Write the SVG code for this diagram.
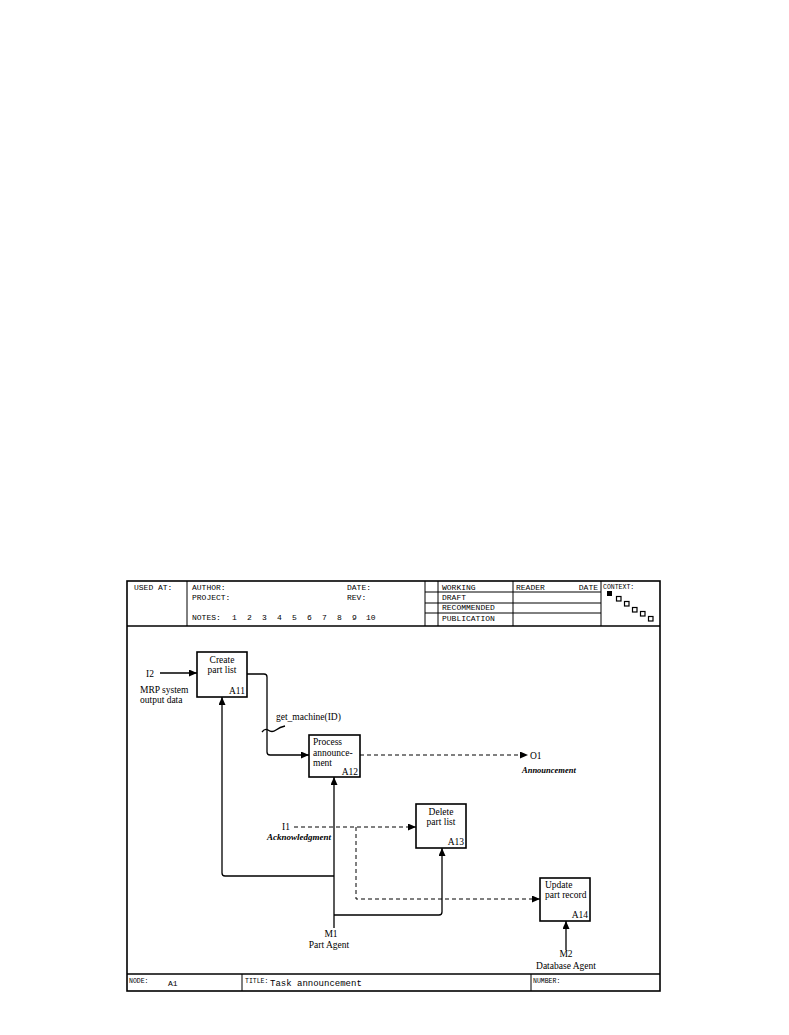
<svg xmlns="http://www.w3.org/2000/svg" width="789" height="1035" viewBox="0 0 789 1035">
<style>
.frame{fill:none;stroke:#000;stroke-width:1.6}
.thin{fill:none;stroke:#000;stroke-width:1}
.box{fill:#fff;stroke:#000;stroke-width:1.6}
.c{fill:none;stroke:#000;stroke-width:1.3}
.d{fill:none;stroke:#000;stroke-width:1;stroke-dasharray:4 3}
.m{font-family:"Liberation Mono",monospace;font-size:8px;fill:#000}
.s{font-family:"Liberation Mono",monospace;font-size:6.5px;fill:#000}
.t{font-family:"Liberation Serif",serif;font-size:9.5px;fill:#000}
.i{font-family:"Liberation Serif",serif;font-size:9px;font-style:italic;font-weight:bold;fill:#000}
.bi{font-family:"Liberation Serif",serif;font-size:8.5px;font-style:italic;font-weight:bold;fill:#000}
</style>
<defs>
<marker id="ah" markerUnits="userSpaceOnUse" markerWidth="9" markerHeight="8" refX="8" refY="3.5" orient="auto">
<path d="M0,0 L8,3.5 L0,7 z" fill="#000"/>
</marker>
</defs>
<rect width="789" height="1035" fill="#fff"/>
<g id="frame">
<rect class="frame" x="127" y="581" width="533" height="410"/>
<line class="frame" x1="127" y1="626" x2="660" y2="626"/>
<line class="frame" x1="127" y1="974" x2="660" y2="974"/>
<line class="thin" x1="187" y1="581" x2="187" y2="626"/>
<line class="thin" x1="425" y1="581" x2="425" y2="626"/>
<line class="thin" x1="438" y1="581" x2="438" y2="626"/>
<line class="thin" x1="513" y1="581" x2="513" y2="626"/>
<line class="thin" x1="601" y1="581" x2="601" y2="626"/>
<line class="thin" x1="425" y1="592" x2="601" y2="592"/>
<line class="thin" x1="425" y1="603" x2="601" y2="603"/>
<line class="thin" x1="425" y1="613" x2="601" y2="613"/>
<line class="thin" x1="242" y1="974" x2="242" y2="991"/>
<line class="thin" x1="531" y1="974" x2="531" y2="991"/>
<text class="m" x="134" y="590">USED AT:</text>
<text class="m" x="192" y="590">AUTHOR:</text>
<text class="m" x="347" y="590">DATE:</text>
<text class="m" x="192" y="600">PROJECT:</text>
<text class="m" x="347" y="600">REV:</text>
<text class="m" x="192" y="620">NOTES:</text>
<text class="m" x="232" y="620">1</text>
<text class="m" x="247" y="620">2</text>
<text class="m" x="262" y="620">3</text>
<text class="m" x="277" y="620">4</text>
<text class="m" x="292" y="620">5</text>
<text class="m" x="307" y="620">6</text>
<text class="m" x="322" y="620">7</text>
<text class="m" x="337" y="620">8</text>
<text class="m" x="352" y="620">9</text>
<text class="m" x="366" y="620">10</text>
<text class="m" x="442" y="590">WORKING</text>
<text class="m" x="442" y="600">DRAFT</text>
<text class="m" x="442" y="610">RECOMMENDED</text>
<text class="m" x="442" y="621">PUBLICATION</text>
<text class="m" x="516" y="590">READER</text>
<text class="m" x="598" y="590" text-anchor="end">DATE</text>
<text class="s" x="603" y="589">CONTEXT:</text>
<rect x="607" y="591" width="5" height="5" fill="#000"/>
<rect x="616.5" y="596.5" width="4.5" height="4.5" fill="#fff" stroke="#000" stroke-width="1.2"/>
<rect x="624.5" y="601.5" width="4.5" height="4.5" fill="#fff" stroke="#000" stroke-width="1.2"/>
<rect x="632.5" y="607.5" width="4.5" height="4.5" fill="#fff" stroke="#000" stroke-width="1.2"/>
<rect x="640.5" y="611.5" width="4.5" height="4.5" fill="#fff" stroke="#000" stroke-width="1.2"/>
<rect x="648.5" y="616.5" width="4.5" height="4.5" fill="#fff" stroke="#000" stroke-width="1.2"/>
<text class="s" x="129" y="983">NODE:</text>
<text class="m" x="168" y="986">A1</text>
<text class="s" x="245" y="983">TITLE:</text>
<text class="m" x="270" y="986" style="font-size:9px">Task announcement</text>
<text class="s" x="533" y="983">NUMBER:</text>
</g>
<g id="connectors">
<path class="c" d="M160,673 H197" marker-end="url(#ah)"/>
<path class="c" d="M247,674 H264 Q267,674 267,677 V752 Q267,755 270,755 H309" marker-end="url(#ah)"/>
<path class="c" d="M262,732 q3,-4 6,-2 q4,3 8,0 q4,-3 9,-4"/>
<path class="d" d="M360,755 H528" marker-end="url(#ah)"/>
<path class="c" d="M334,928 V777" marker-end="url(#ah)"/>
<path class="c" d="M334,876 H225 Q222,876 222,873 V697" marker-end="url(#ah)"/>
<path class="c" d="M334,915 H439 Q442,915 442,912 V848" marker-end="url(#ah)"/>
<path class="d" d="M294,827 H416" marker-end="url(#ah)"/>
<path class="d" d="M356,827 V899 H540" marker-end="url(#ah)"/>
<path class="c" d="M566,950 V921" marker-end="url(#ah)"/>
<text class="t" x="146" y="677">I2</text>
<text class="t" x="140" y="693">MRP system</text>
<text class="t" x="140" y="703">output data</text>
<text class="t" x="276" y="720">get_machine(ID)</text>
<text class="t" x="530" y="759">O1</text>
<text class="bi" x="522" y="773">Announcement</text>
<text class="t" x="282" y="830">I1</text>
<text class="i" x="267" y="840">Acknowledgment</text>
<text class="t" x="331" y="937" text-anchor="middle">M1</text>
<text class="t" x="329" y="948" text-anchor="middle">Part Agent</text>
<text class="t" x="566" y="957" text-anchor="middle">M2</text>
<text class="t" x="566" y="969" text-anchor="middle">Database Agent</text>
</g>
<g id="A11">
<rect class="box" x="197" y="652" width="50" height="45"/>
<text class="t" x="222" y="663" text-anchor="middle">Create</text>
<text class="t" x="222" y="673" text-anchor="middle">part list</text>
<text class="t" x="245" y="694" text-anchor="end">A11</text>
</g>
<g id="A12">
<rect class="box" x="309" y="735" width="51" height="42"/>
<text class="t" x="313" y="745">Process</text>
<text class="t" x="313" y="756">announce-</text>
<text class="t" x="313" y="766">ment</text>
<text class="t" x="358" y="775" text-anchor="end">A12</text>
</g>
<g id="A13">
<rect class="box" x="416" y="804" width="50" height="44"/>
<text class="t" x="441" y="815" text-anchor="middle">Delete</text>
<text class="t" x="441" y="825" text-anchor="middle">part list</text>
<text class="t" x="464" y="845" text-anchor="end">A13</text>
</g>
<g id="A14">
<rect class="box" x="540" y="878" width="50" height="43"/>
<text class="t" x="545" y="888">Update</text>
<text class="t" x="545" y="898">part record</text>
<text class="t" x="588" y="918" text-anchor="end">A14</text>
</g>
</svg>
